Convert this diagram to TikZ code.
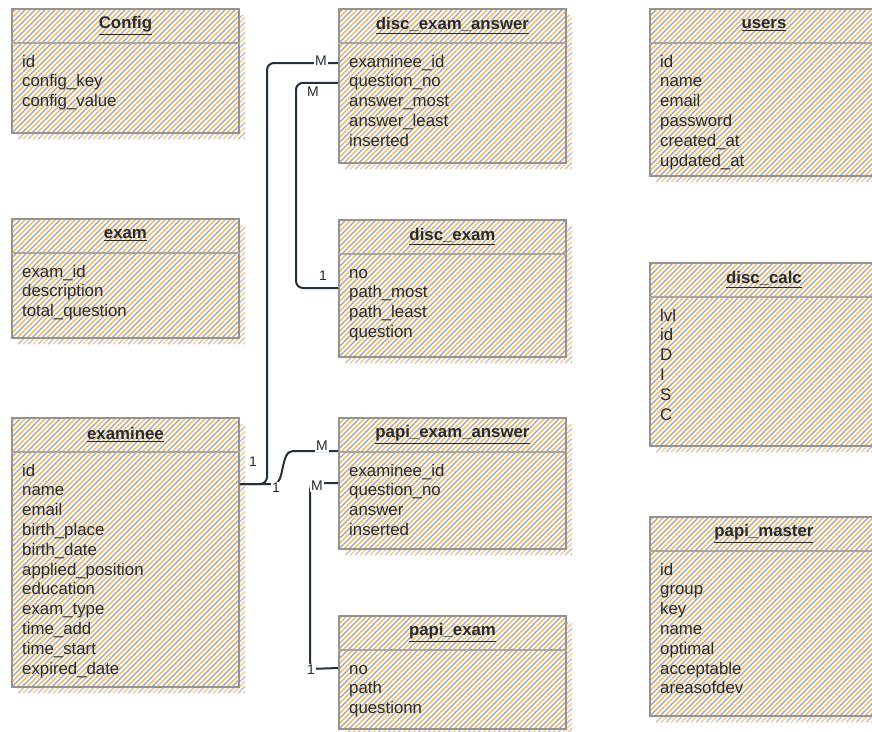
\documentclass[tikz,border=0pt]{standalone}
\usepackage{fontspec}
\setmainfont{Liberation Sans}
\usetikzlibrary{calc}
\definecolor{hgray}{HTML}{A9A9A9}
\definecolor{horange}{HTML}{F3B862}
\definecolor{bordergray}{HTML}{939393}
\definecolor{sepgray}{HTML}{A6A6A6}
\definecolor{linkcol}{HTML}{1E3244}
\definecolor{txt}{HTML}{2A2A2A}
\tikzset{
  hatchfill/.style n args={2}{path picture={
     \foreach \s in {-300,-290,...,260}{
       \pgfmathsetmacro\t{\s+5}
       \draw[#1, line width=1.5pt] ([xshift=\s pt]path picture bounding box.south west) -- ++(330pt,330pt);
       \draw[#2, line width=1.5pt] ([xshift=\t pt]path picture bounding box.south west) -- ++(330pt,330pt);
     }}},
  tbl/.style={draw=bordergray, line width=1.9pt, fill=white, hatchfill={hgray}{horange}, inner sep=0pt, anchor=north west},
  shadowbox/.style={hatchfill={hgray!70}{horange!70}, inner sep=0pt, anchor=north west},
  sepline/.style={draw=sepgray, line width=1.1pt},
  ttl/.style={font=\fontsize{16.8}{19}\selectfont\bfseries, text=txt, inner sep=0pt},
  field/.style={font=\fontsize{16.8}{19}\selectfont, text=txt, inner sep=0pt, anchor=west, text height=11.5pt, text depth=3.5pt},
  link/.style={draw=linkcol, line width=2pt, rounded corners=7pt},
  card/.style={font=\fontsize{14}{16}\selectfont, text=txt, fill=white, inner sep=0.8pt}
}
\newcommand\ertable[7]{%
  \pgfmathsetmacro\tw{#4-#2}%
  \pgfmathsetmacro\th{#5-#3}%
  \node[shadowbox, minimum width=\tw pt, minimum height=\th pt] (#1-sh) at (#2+7,#3+7) {};
  \node[tbl, minimum width=\tw pt, minimum height=\th pt] (#1) at (#2,#3) {};
  \draw[sepline] ($(#1.north west)+(0,35)$) -- ($(#1.north east)+(0,35)$);
  \node[ttl] (#1-title) at ($(#1.north)+(0,17.5)$) {\underline{#6}};
  \foreach \f [count=\i] in {#7} {%
    \pgfmathsetmacro\fy{55+(\i-1)*19.8}%
    \node[field] (#1-\i) at ($(#1.north west)+(11,\fy)$) {\f};}%
}
\begin{document}
\begin{tikzpicture}[x=1pt,y=-1pt]
\useasboundingbox (0,0) rectangle (872,731);
\clip (0,0) rectangle (872,731);
\fill[white] (0,0) rectangle (872,731);

\ertable{config}{11}{8}{238}{132}{Config}{id, config\_key, config\_value}
\ertable{exam}{11}{218}{238}{337}{exam}{exam\_id, description, total\_question}
\ertable{examinee}{11}{417}{238}{686}{examinee}{id, name, email, birth\_place, birth\_date, applied\_position, education, exam\_type, time\_add, time\_start, expired\_date}
\ertable{dea}{338}{8}{565}{162}{disc\_exam\_answer}{examinee\_id, question\_no, answer\_most, answer\_least, inserted}
\ertable{dexam}{338}{219}{565}{356}{disc\_exam}{no, path\_most, path\_least, question}
\ertable{pea}{338}{417}{565}{548}{papi\_exam\_answer}{examinee\_id, question\_no, answer, inserted}
\ertable{pexam}{338}{615}{565}{728}{papi\_exam}{no, path, questionn}
\ertable{users}{649}{8}{877}{175}{users}{id, name, email, password, created\_at, updated\_at}
\ertable{dcalc}{649}{262}{877}{445}{disc\_calc}{lvl, id, D, I, S, C}
\ertable{pmaster}{649}{516}{877}{715}{papi\_master}{id, group, key, name, optimal, acceptable, areasofdev}

% examinee -> disc_exam_answer
\draw[link] ($(examinee.north east)+(0,67)$) -| (267,63) -- (dea.west |- dea-1);
% examinee -> papi_exam_answer
\draw[link, rounded corners=0pt] ($(examinee.north east)+(0,67)$) -- (274,484)
   .. controls (285,484) and (280,451) .. (293,451) -- ($(pea.north west)+(0,34)$);
% disc_exam_answer -> disc_exam
\draw[link] (dea.west |- dea-2) -| (296,288) -- ($(dexam.north west)+(0,69)$);
% papi_exam_answer -> papi_exam
\draw[link] ($(pea.north west)+(0,66)$) -| (310,669) -- ($(pexam.north west)+(0,53)$);

\node[card] (cA1) at (253,462) {1};
\node[card] (cAM) at (321,61) {M};
\node[card] (cB1) at (276,488) {1};
\node[card] (cBM) at (322,446) {M};
\node[card] (cCM) at (313,92) {M};
\node[card] (cC1) at (323,276) {1};
\node[card] (cDM) at (317,486) {M};
\node[card] (cD1) at (311,670) {1};
\end{tikzpicture}
\end{document}
